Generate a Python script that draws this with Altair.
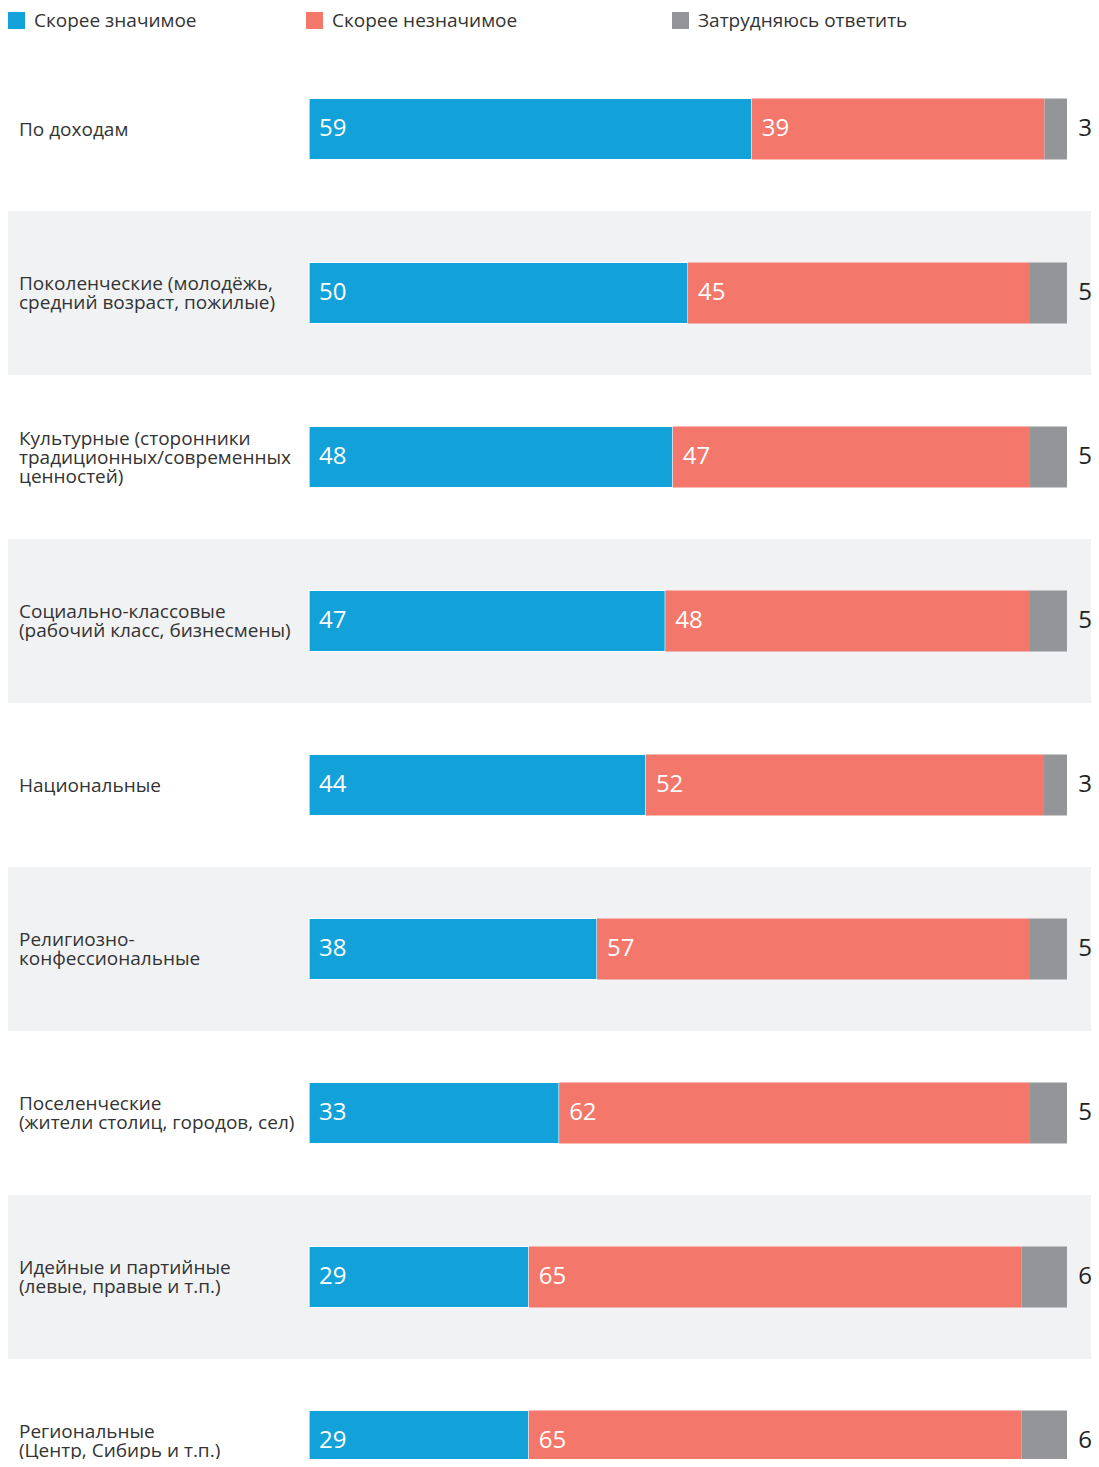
import altair as alt
import pandas as pd

categories = [
    "По доходам",
    "Поколенческие (молодёжь,\nсредний возраст, пожилые)",
    "Культурные (сторонники\nтрадиционных/современных\nценностей)",
    "Социально-классовые\n(рабочий класс, бизнесмены)",
    "Национальные",
    "Религиозно-\nконфессиональные",
    "Поселенческие\n(жители столиц, городов, сел)",
    "Идейные и партийные\n(левые, правые и т.п.)",
    "Региональные\n(Центр, Сибирь и т.п.)",
]
series = ["Скорее значимое", "Скорее незначимое", "Затрудняюсь ответить"]
significant = [59, 50, 48, 47, 44, 38, 33, 29, 29]
insignificant = [39, 45, 47, 48, 52, 57, 62, 65, 65]
dont_know = [3, 5, 5, 5, 3, 5, 5, 6, 6]
colors = ["#13a1da", "#f3776a", "#949599"]

rows = []
for i, c in enumerate(categories):
    for s, (name, vals) in enumerate(zip(series, [significant, insignificant, dont_know])):
        rows.append({"cat": c, "row": i, "series": name, "sidx": s, "value": vals[i]})
df = pd.DataFrame(rows)
cat_df = pd.DataFrame({"cat": categories, "row": list(range(len(categories)))})

FONT = "Open Sans"
TXT = "#333333"
LINE_H = 19

yscale = alt.Scale(domain=categories, range=[0, 1476], paddingInner=0, paddingOuter=0)
cscale = alt.Scale(domain=series, range=colors)
Y = alt.Y("cat:N", scale=yscale, axis=None)

base = alt.Chart(df).transform_joinaggregate(
    total="sum(value)", groupby=["cat"]
).transform_calculate(
    pct="datum.value / datum.total"
).transform_stack(
    stack="pct", groupby=["cat"], as_=["start", "end"], sort=[alt.SortField("sidx", order="ascending")]
)

bands = alt.Chart(cat_df).transform_filter("datum.row % 2 == 1").mark_rect(color="#f1f2f4").encode(
    y=Y, x=alt.value(-301), x2=alt.value(790)
)

label_layers = []
for n in (1, 2, 3):
    label_layers.append(
        alt.Chart(cat_df).transform_calculate(
            nlines="length(split(datum.cat, '\\n'))"
        ).transform_filter(f"datum.nlines == {n}").mark_text(
            align="left", baseline="middle", lineBreak="\n", fontSize=19, font=FONT, color=TXT,
            lineHeight=LINE_H, dy=-(n - 1) / 2 * LINE_H + 0.5,
        ).encode(y=Y, x=alt.value(-290), text="cat:N")
    )

bars = base.mark_bar(size=61, stroke="white").encode(
    y=Y,
    x=alt.X("start:Q", scale=alt.Scale(domain=[0, 1]), axis=None),
    x2="end:Q",
    color=alt.Color("series:N", scale=cscale, legend=None),
    strokeWidth=alt.condition("datum.sidx == 0", alt.value(1.2), alt.value(0)),
)

inside = base.transform_filter("datum.sidx < 2").mark_text(
    align="left", baseline="middle", dx=10, fontSize=24, font=FONT, color="white"
).encode(y=Y, x="start:Q", text="value:Q")

outside = base.transform_filter("datum.sidx == 2").mark_text(
    align="center", baseline="middle", fontSize=24, font=FONT, color="#222222"
).encode(y=Y, x=alt.value(776), text="value:Q")

legend_pos = [(-292.5, -275), (5.5, 23), (371.5, 389)]
legend_layers = []
for name, (sx, tx) in zip(series, legend_pos):
    ldf = pd.DataFrame({"series": [name]})
    legend_layers.append(
        alt.Chart(ldf).mark_square(size=289, opacity=1).encode(
            x=alt.value(sx), y=alt.value(-26.5),
            color=alt.Color("series:N", scale=cscale, legend=None),
        )
    )
    legend_layers.append(
        alt.Chart(ldf).mark_text(align="left", baseline="middle", fontSize=19, font=FONT, color=TXT).encode(
            x=alt.value(tx), y=alt.value(-26), text="series:N"
        )
    )

chart = alt.layer(bands, *label_layers, bars, inside, outside, *legend_layers).properties(
    width=758,
    height=1412,
    autosize=alt.AutoSizeParams(type="none"),
    padding={"left": 301, "top": 39, "right": 24, "bottom": 0},
).configure(font=FONT).configure_view(stroke=None)

chart.save("out.html", embed_options={"renderer": "svg", "actions": False})
